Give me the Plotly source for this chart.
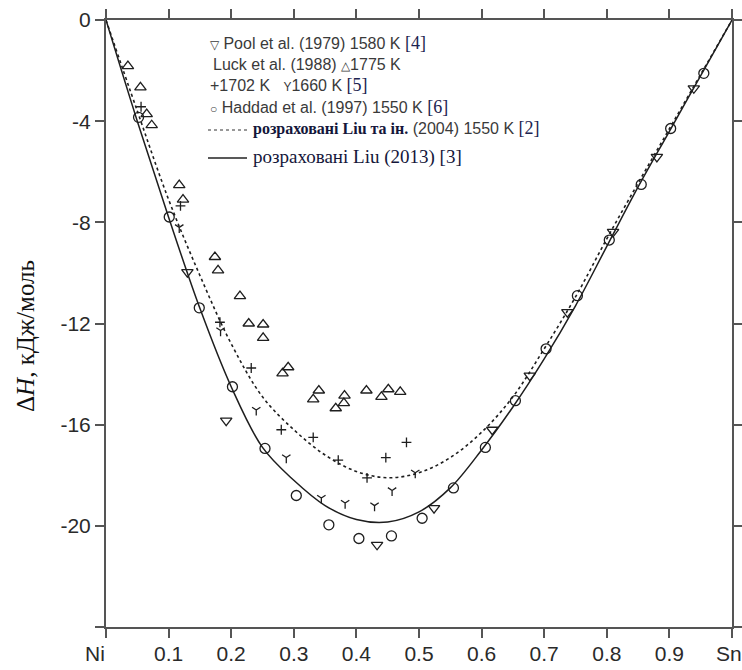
import plotly.graph_objects as go

# ---------------- data ----------------
x_curve = [0, 0.05, 0.1, 0.15, 0.2, 0.25, 0.3, 0.35, 0.4, 0.45, 0.5, 0.55,
           0.6, 0.65, 0.7, 0.75, 0.8, 0.85, 0.9, 0.95, 1.0]
liu2013 = [0, -4.0, -7.8, -11.4, -14.5, -16.9, -18.2, -19.2, -19.75, -19.85,
           -19.45, -18.5, -17.0, -15.3, -13.4, -11.3, -8.95, -6.6, -4.4, -2.2, 0]
liu2004 = [0, -3.6, -7.1, -10.1, -12.8, -14.9, -16.2, -17.2, -17.85, -18.1,
           -17.9, -17.3, -16.3, -14.9, -13.0, -10.95, -8.65, -6.45, -4.3, -2.15, 0]

pool_x = [0.13, 0.192, 0.433, 0.524, 0.617, 0.677, 0.737, 0.81, 0.88, 0.939]
pool_y = [-9.97, -15.84, -20.75, -19.3, -16.2, -14.06, -11.55, -8.38, -5.41, -2.7]

luck1775_x = [0.035, 0.055, 0.065, 0.073, 0.117, 0.123, 0.174, 0.179, 0.214, 0.228,
              0.251, 0.251, 0.282, 0.291, 0.331, 0.34, 0.367, 0.38, 0.381, 0.416,
              0.44, 0.451, 0.47]
luck1775_y = [-1.82, -2.66, -3.72, -4.16, -6.53, -7.1, -9.37, -9.9, -10.92, -12.0,
              -12.04, -12.57, -13.97, -13.73, -15.0, -14.65, -15.35, -15.15, -14.85, -14.65,
              -14.9, -14.6, -14.7]

luck1702_x = [0.056, 0.119, 0.182, 0.232, 0.28, 0.331, 0.371, 0.417, 0.447, 0.48]
luck1702_y = [-3.43, -7.35, -11.95, -13.76, -16.2, -16.5, -17.4, -18.1, -17.3, -16.7]

luck1660_x = [0.117, 0.183, 0.24, 0.288, 0.344, 0.382, 0.429, 0.457, 0.494]
luck1660_y = [-8.2, -12.28, -15.42, -17.3, -18.9, -19.1, -19.2, -18.6, -17.9]

haddad_x = [0.052, 0.101, 0.149, 0.202, 0.254, 0.304, 0.356, 0.404, 0.456, 0.505,
            0.555, 0.606, 0.654, 0.703, 0.753, 0.804, 0.855, 0.902, 0.955]
haddad_y = [-3.85, -7.79, -11.38, -14.5, -16.94, -18.8, -19.96, -20.5, -20.4, -19.7,
            -18.5, -16.9, -15.05, -13.0, -10.9, -8.7, -6.5, -4.29, -2.11]

x_ticks = [0, 0.1, 0.2, 0.3, 0.4, 0.5, 0.6, 0.7, 0.8, 0.9, 1.0]
x_labels = ["", "0.1", "0.2", "0.3", "0.4", "0.5", "0.6", "0.7", "0.8", "0.9", ""]
left_label = "Ni"
right_label = "Sn"
y_ticks = [0, -4, -8, -12, -16, -20, -24]
y_labels = ["0", "-4", "-8", "-12", "-16", "-20", ""]

# ---------------- figure ----------------
INK = "#1e1e1e"
fig = go.Figure()

fig.add_trace(go.Scatter(x=x_curve, y=liu2004, mode="lines", line_shape="spline",
                         line=dict(color=INK, width=1.6, dash="dot")))
fig.add_trace(go.Scatter(x=x_curve, y=liu2013, mode="lines", line_shape="spline",
                         line=dict(color=INK, width=1.5)))

def pts(x, y, symbol, size):
    fig.add_trace(go.Scatter(x=x, y=y, mode="markers",
                             marker=dict(symbol=symbol, size=size, color=INK,
                                         line=dict(color=INK, width=1.3))))

pts(pool_x, pool_y, "triangle-down-open", 10)
pts(luck1775_x, luck1775_y, "triangle-up-open", 10)
pts(luck1702_x, luck1702_y, "cross-thin-open", 7)
pts(luck1660_x, luck1660_y, "y-down-open", 7)
pts(haddad_x, haddad_y, "circle-open", 10)

W, H = 742, 670
L, R, T, B = 106, 10, 20, 43
pw, ph = W - L - R, H - T - B

def px(xp):
    return (xp - L) / pw

def py(yp):
    return (H - B - yp) / ph

SANS = "Liberation Sans, Arial, sans-serif"
SERIF = "Liberation Serif, Times New Roman, serif"
NARROW = "Liberation Sans Narrow, Liberation Sans, Arial"
REF = "color:#1c2350;font-family:Liberation Serif;font-size:18px"
CYR = "color:#14163a;font-family:Liberation Serif;font-size:16px;font-weight:bold"

legend_rows = [
    (43, 208, "<span style='font-size:12px'>▽</span> Pool et al. (1979) 1580 K "
              f"<span style='{REF}'>[4]</span>"),
    (65, 211, "Luck et al. (1988) <span style='font-size:12px'>△</span>1775 K"),
    (85, 208, "+1702 K   <span style='font-size:12px'>Y</span>1660 K "
              f"<span style='{REF}'>[5]</span>"),
    (107, 208, "<span style='font-size:12px'>○</span> Haddad et al. (1997) 1550 K "
               f"<span style='{REF}'>[6]</span>"),
    (128, 251, f"<span style='{CYR}'>розраховані Liu та ін.</span> (2004) 1550 K "
               f"<span style='{REF}'>[2]</span>"),
    (157, 251, "<span style='color:#14163a;font-family:Liberation Serif;font-size:19px'>"
               "розраховані Liu (2013) [3]</span>"),
]
for yy, xx, txt in legend_rows:
    fig.add_annotation(x=px(xx), y=py(yy), xref="paper", yref="paper",
                       xanchor="left", yanchor="middle", showarrow=False,
                       text=txt, font=dict(family=SANS, size=16, color="#3a3a3a"))

fig.add_shape(type="line", xref="paper", yref="paper",
              x0=px(208), x1=px(247), y0=py(130), y1=py(130),
              line=dict(color="#333", width=1.2, dash="dot"))
fig.add_shape(type="line", xref="paper", yref="paper",
              x0=px(208), x1=px(247), y0=py(158), y1=py(158),
              line=dict(color="#222", width=1.4))

fig.add_annotation(x=px(25), y=py(336), xref="paper", yref="paper",
                   text="Δ<i>H</i>, кДж/моль", textangle=-90, showarrow=False,
                   xanchor="center", yanchor="middle",
                   font=dict(family=SERIF, size=25, color="#111"))

fig.add_annotation(x=px(95), y=py(653), xref="paper", yref="paper",
                   text=left_label, showarrow=False, xanchor="center", yanchor="middle",
                   font=dict(family=NARROW, size=21, color="#2a2a2a"))
fig.add_annotation(x=px(742), y=py(653), xref="paper", yref="paper",
                   text=right_label, showarrow=False, xanchor="right", yanchor="middle",
                   borderpad=0, xshift=1,
                   font=dict(family=NARROW, size=21, color="#2a2a2a"))

axis_common = dict(showline=True, linecolor="#555", linewidth=2, mirror="ticks",
                   ticks="outside", ticklen=9, tickwidth=1.5, tickcolor="#555",
                   showgrid=False, zeroline=False, automargin=False,
                   ticklabeloverflow="allow",
                   tickfont=dict(family=NARROW, size=21, color="#2a2a2a"))

fig.update_layout(
    width=W, height=H, margin=dict(l=L, r=R, t=T, b=B, autoexpand=False),
    paper_bgcolor="white", plot_bgcolor="white", showlegend=False,
    xaxis=dict(range=[0, 1], tickvals=x_ticks, ticktext=x_labels,
               ticklabelstandoff=-2, **axis_common),
    yaxis=dict(range=[-24, 0], tickvals=y_ticks, ticktext=y_labels, **axis_common),
)

fig.write_html("out.html")
